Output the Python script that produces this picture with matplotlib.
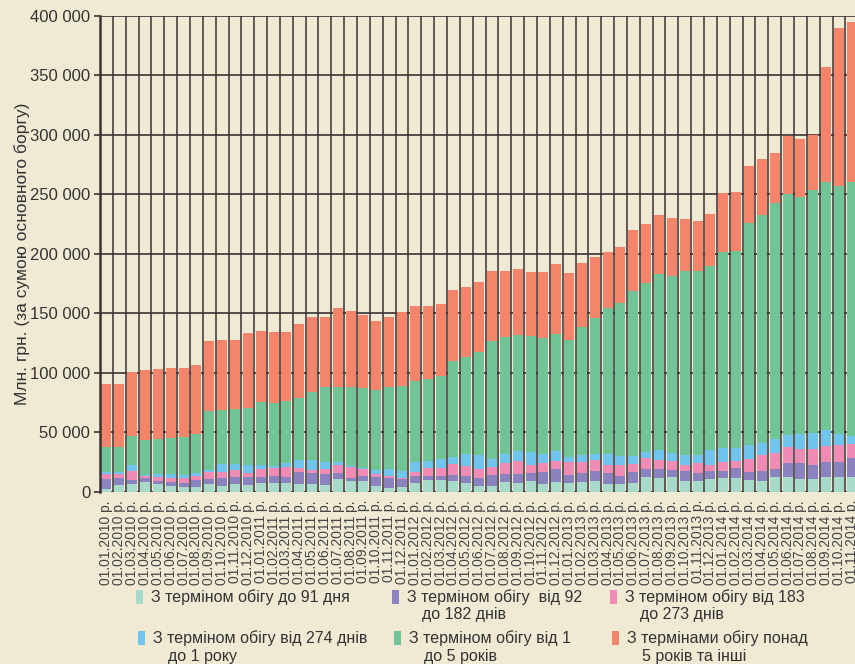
import numpy as np
import matplotlib
matplotlib.use("Agg")
import matplotlib.pyplot as plt
from matplotlib.patches import Rectangle
from matplotlib.ticker import FuncFormatter

plt.rcParams['font.family'] = ['Liberation Sans', 'DejaVu Sans']

# дати (перше число місяця)
years = [2010, 2011, 2012, 2013, 2014]
dates = []
for y in years:
    for m in range(1, 13):
        if y == 2014 and m > 11:
            break
        dates.append("01.%02d.%d р." % (m, y))

# млн грн, по складових
up_to_91 = [2200, 5600, 6400, 8100, 6400, 5000, 4200, 3900, 6400, 4800, 6400, 5600,
            7300, 7300, 7300, 6400, 6400, 5600, 10600, 9000, 9000, 4800, 3100, 3900,
            7300, 9800, 9800, 9000, 7300, 4800, 4800, 8100, 7300, 9000, 6400, 8100,
            7300, 8100, 9000, 6400, 6400, 7300, 12300, 11500, 12300, 9000, 9000, 10600,
            11500, 11500, 9800, 9000, 12300, 12300, 10600, 10600, 12300, 12300, 12300]
d92_182 = [8400, 5900, 3400, 3700, 2800, 3100, 3100, 5900, 4200, 6700, 5900, 6700,
           5000, 5900, 5000, 10100, 9300, 9200, 5100, 2500, 4400, 7500, 8700, 6700,
           6100, 3600, 3600, 5000, 6100, 7000, 9200, 7000, 7800, 6700, 10400, 10900,
           6700, 7600, 8400, 9300, 7000, 9200, 6700, 7500, 6200, 8400, 6700, 6800,
           5900, 8700, 6700, 8400, 6700, 11800, 13500, 11800, 12600, 12600, 16300]
d183_273 = [4200, 3300, 7800, 1100, 3400, 3100, 3900, 3600, 5600, 4700, 5600, 3400,
            6700, 6700, 8400, 3700, 2800, 4200, 6700, 9200, 5600, 2500, 1600, 1200,
            3400, 6800, 6800, 9500, 8400, 7200, 6700, 8700, 10900, 6700, 7000, 7000,
            11200, 9500, 9500, 6700, 9000, 7000, 9600, 7900, 7300, 5000, 8100, 5000,
            7800, 5600, 10900, 13400, 13500, 13400, 11700, 13400, 13700, 14300, 11700]
d274_1y = [1700, 1700, 4800, 1100, 2200, 3400, 3100, 2300, 2000, 6800, 5300, 6700,
           3400, 1700, 3400, 6700, 8400, 5900, 2500, 900, 1200, 3700, 5600, 5600,
           8100, 5600, 7200, 5600, 9800, 11800, 6700, 8100, 8200, 10900, 8100, 8200,
           3900, 5600, 5000, 9500, 7800, 6700, 5000, 8400, 6700, 8400, 7000, 12900,
           11800, 11200, 11800, 10100, 11700, 10100, 12600, 13500, 13500, 9500, 6700]
y1_5 = [21000, 21000, 24600, 29700, 29400, 30800, 31600, 33000, 49600, 45900, 46200, 48200,
        53200, 52900, 52100, 52100, 57100, 63000, 63000, 66300, 66900, 67200, 68900, 71600,
        68100, 68800, 70000, 80700, 81500, 86800, 99200, 98000, 97400, 97700, 97500, 98500,
        98600, 107500, 114300, 122700, 128300, 138400, 141700, 147800, 148900, 154600, 154600, 154600,
        164600, 165200, 186500, 191500, 198300, 202500, 199100, 204000, 208000, 208100, 213100]
over_5y = [53200, 53200, 53800, 58500, 58800, 58500, 57700, 57700, 58800, 58500, 57700, 62700,
           59100, 59600, 57900, 61800, 62800, 58900, 66400, 63900, 61100, 57700, 58900, 61900,
           63000, 61400, 60300, 59600, 58800, 58500, 58800, 55500, 55500, 53500, 55100, 58500,
           56000, 53800, 50900, 46700, 47000, 51200, 49800, 49300, 48500, 43700, 42000, 43600,
           49300, 49500, 47900, 47100, 42000, 48700, 48800, 46300, 96600, 132500, 134400]

series = [up_to_91, d92_182, d183_273, d274_1y, y1_5, over_5y]
colors = ['#a7dacb', '#8a83c0', '#f08bb5', '#6fc5ee', '#70c495', '#f5856a']
legend_lines = [
    ["З терміном обігу до 91 дня"],
    ["З терміном обігу  від 92", "до 182 днів"],
    ["З терміном обігу від 183", "до 273 днів"],
    ["З терміном обігу від 274 днів", "до 1 року"],
    ["З терміном обігу від 1", "до 5 років"],
    ["З термінами обігу понад", "5 років та інші"],
]

bg = '#f0e9d4'
grid_c = '#3b3333'

fig = plt.figure(figsize=(8.55, 6.64), dpi=100, facecolor=bg)
ax = fig.add_axes([0.117, 0.2595, 0.9018, 0.7169], facecolor=bg)

x = np.arange(len(dates))
bottom = np.zeros(len(dates))
for vals, c in zip(series, colors):
    ax.bar(x, vals, bottom=bottom, width=0.78, color=c, zorder=2, linewidth=0)
    bottom += np.array(vals)

ax.set_xlim(-0.5, len(dates) + 0.5)
ax.set_ylim(0, 400000)
ax.set_yticks(np.arange(0, 400001, 50000))
ax.yaxis.set_major_formatter(FuncFormatter(lambda v, p: "{:,}".format(int(v)).replace(",", " ")))
ax.tick_params(axis='y', labelsize=12, length=4, width=1.2, color=grid_c, labelcolor='#333333', pad=3)
ax.yaxis.grid(True, color=grid_c, linewidth=1.2, zorder=0)
ax.set_axisbelow(True)

for b in np.arange(0.5, len(dates), 1):
    ax.axvline(b, color=grid_c, linewidth=1.3, alpha=0.85, zorder=1)

ax.set_xticks(x)
ax.set_xticklabels(dates, rotation=90, fontsize=10, color='#444444')
ax.tick_params(axis='x', length=0, pad=6)

for s in ['top', 'right', 'bottom']:
    ax.spines[s].set_visible(False)
ax.spines['left'].set_color(grid_c)
ax.spines['left'].set_linewidth(1.8)

ax.set_ylabel("Млн. грн. (за сумою основного боргу)", fontsize=12.5, color='#333333')
ax.yaxis.set_label_coords(-0.091, 0.5)

# легенда вручну
W, H = 855.0, 664.0
col_x = [136, 392, 610]
row_y = [597, 638]
for i, (lines, c) in enumerate(zip(legend_lines, colors)):
    cx = col_x[i % 3] + (2 if i >= 3 else 0)
    ry = row_y[i // 3]
    fig.add_artist(Rectangle((cx / W, 1 - (ry + 7) / H), 7 / W, 14 / H,
                             transform=fig.transFigure, color=c, linewidth=0))
    fig.text((cx + 15) / W, 1 - ry / H, lines[0], fontsize=11.5, color='#333333', va='center')
    if len(lines) > 1:
        fig.text((cx + 30) / W, 1 - (ry + 18) / H, lines[1], fontsize=11.5, color='#333333', va='center')

fig.savefig("out.png", dpi=100, facecolor=bg)
